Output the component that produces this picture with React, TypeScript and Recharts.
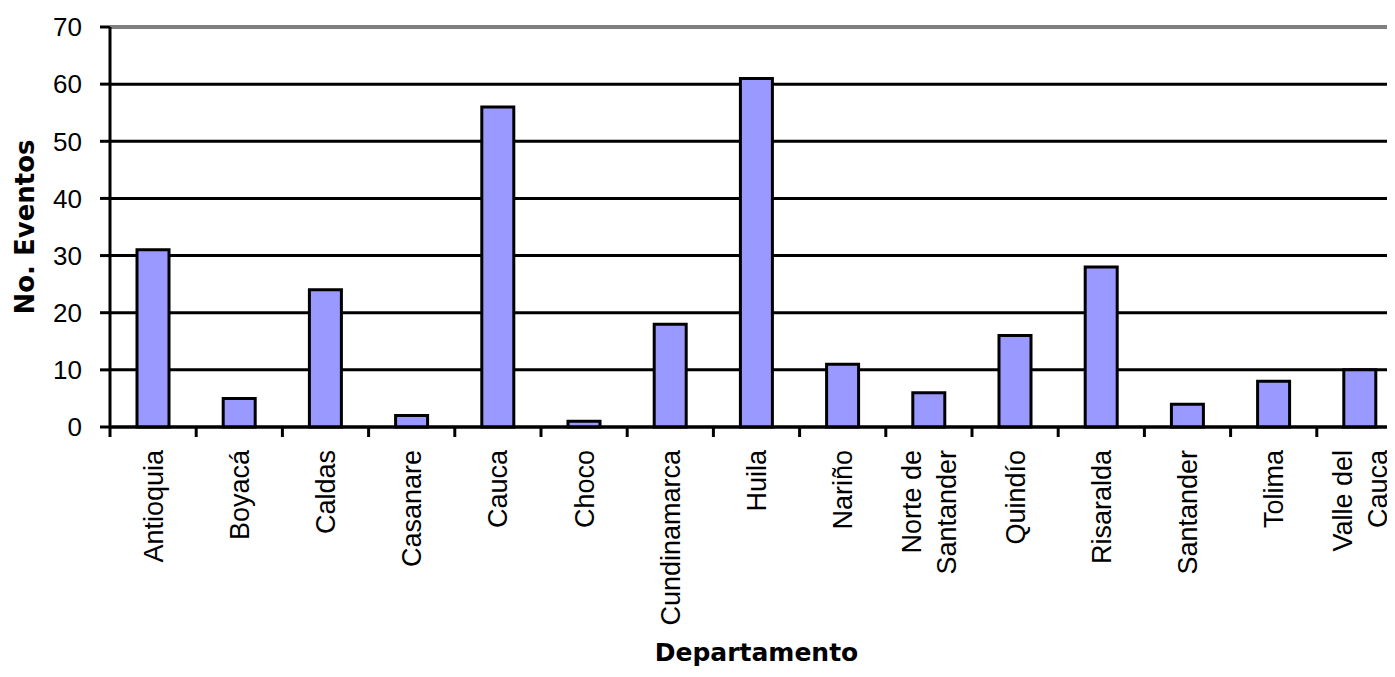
import { BarChart, Bar, XAxis, YAxis, CartesianGrid, ReferenceLine, Label } from "recharts";

const departamentos = [
    "Antioquia",
    "Boyacá",
    "Caldas",
    "Casanare",
    "Cauca",
    "Choco",
    "Cundinamarca",
    "Huila",
    "Nariño",
    "Norte de\nSantander",
    "Quindío",
    "Risaralda",
    "Santander",
    "Tolima",
    "Valle del\nCauca",
];
const eventos = [31, 5, 24, 2, 56, 1, 18, 61, 11, 6, 16, 28, 4, 8, 10];
const yTicks = [0, 10, 20, 30, 40, 50, 60, 70];

const data = departamentos.map((d, i) => ({ departamento: d, eventos: eventos[i] }));

const FONT = "'Liberation Sans', Arial, sans-serif";
const TITLE_FONT = "'DejaVu Sans', Verdana, sans-serif";

// label rotated upwards + tick mark on the left edge of the category band
function DeptTick({ x, y, payload, index, visibleTicksCount }: any) {
    const lines = String(payload.value).split("\n");
    const half = payload.offset || 0;
    const isLast = index === visibleTicksCount - 1;
    return (
        <g>
            <line x1={x - half} x2={x - half} y1={y} y2={y + 10} stroke="#000" strokeWidth={3} />
            {isLast && <line x1={x + half} x2={x + half} y1={y} y2={y + 10} stroke="#000" strokeWidth={3} />}
            <g transform={`translate(${x},${y + 23}) rotate(-90)`}>
                <text textAnchor="end" fontFamily={FONT} fontSize={27} fill="#000">
                    {lines.map((l, i) => (
                        <tspan key={i} x={0} y={(i - (lines.length - 1) / 2) * 35 + 9.5}>
                            {l}
                        </tspan>
                    ))}
                </text>
            </g>
        </g>
    );
}

export default function App() {
    return (
        <div style={{ margin: -8, width: 1395, height: 677, overflow: "hidden", background: "#fff" }}>
            <BarChart
                width={1420}
                height={677}
                data={data}
                margin={{ top: 27, right: 17, bottom: 0, left: 0 }}
                barSize={32}
            >
                <CartesianGrid horizontal vertical={false} stroke="#000" strokeWidth={3} strokeOpacity={1} />
                <XAxis
                    dataKey="departamento"
                    interval={0}
                    height={250}
                    tickLine={false}
                    tickSize={0}
                    tickMargin={0}
                    axisLine={{ stroke: "#000", strokeWidth: 3 }}
                    tick={<DeptTick />}
                >
                    <Label
                        value="Departamento"
                        position="insideBottom"
                        offset={16}
                        fill="#000"
                        style={{ fontFamily: TITLE_FONT, fontWeight: "bold", fontSize: 25 }}
                    />
                </XAxis>
                <YAxis
                    width={110}
                    domain={[0, 70]}
                    ticks={yTicks}
                    interval={0}
                    tickSize={10}
                    tickMargin={18}
                    axisLine={{ stroke: "#000", strokeWidth: 3 }}
                    tickLine={{ stroke: "#000", strokeWidth: 3 }}
                    tick={{ fill: "#000", fontSize: 26, fontFamily: FONT }}
                >
                    <Label
                        content={({ viewBox }: any) => (
                            <text
                                transform={`translate(${viewBox.x + 34},${viewBox.y + viewBox.height / 2}) rotate(-90)`}
                                textAnchor="middle"
                                fontFamily={TITLE_FONT}
                                fontWeight="bold"
                                fontSize={26}
                                fill="#000"
                            >
                                No. Eventos
                            </text>
                        )}
                    />
                </YAxis>
                <ReferenceLine y={70} stroke="#808080" strokeWidth={3} />
                <Bar
                    dataKey="eventos"
                    fill="#9999FF"
                    stroke="#000"
                    strokeWidth={3}
                    isAnimationActive={false}
                />
            </BarChart>
        </div>
    );
}
